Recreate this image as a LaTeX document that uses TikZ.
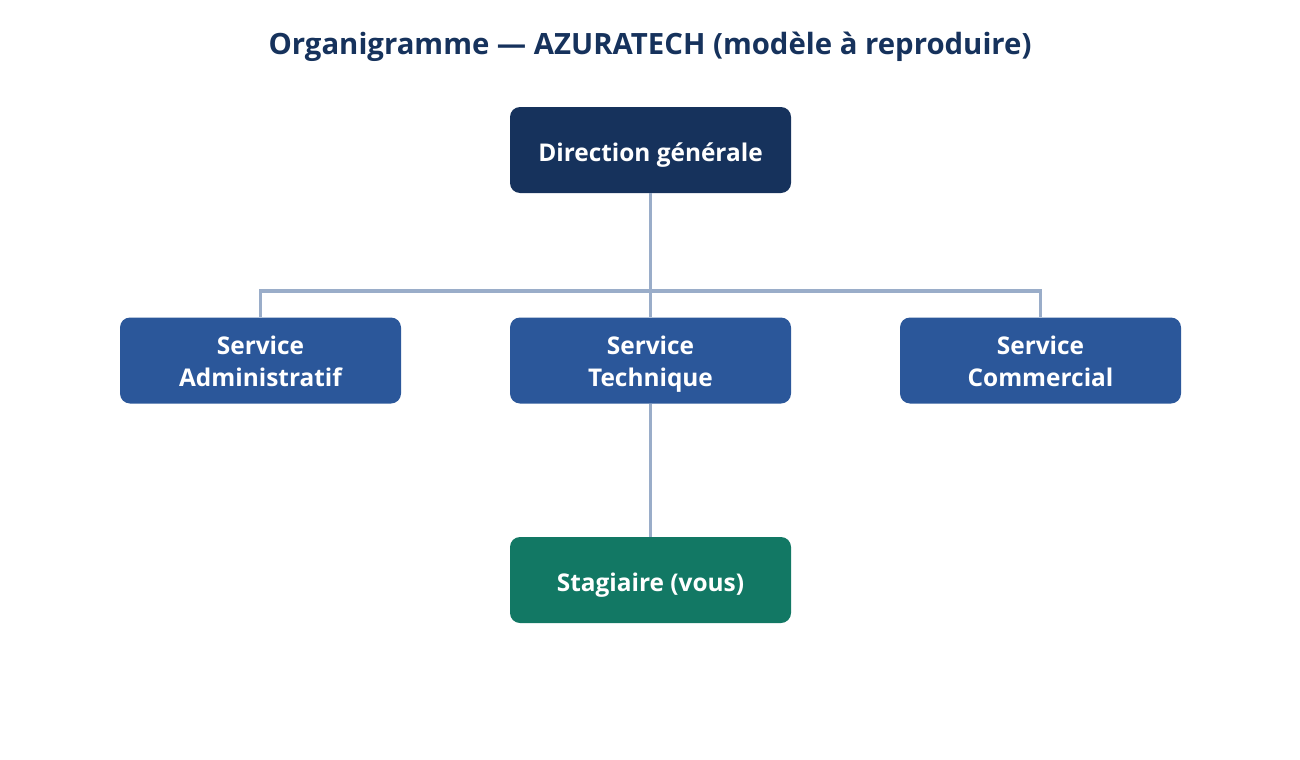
\documentclass[tikz,border=0pt]{standalone}
\usepackage{fontspec}
\setmainfont{Open Sans}
\definecolor{topc}{HTML}{16325C}
\definecolor{svc}{HTML}{2B579A}
\definecolor{stg}{HTML}{127864}
\definecolor{linec}{HTML}{9AADC9}
\definecolor{titlec}{HTML}{16325C}
\begin{document}
\begin{tikzpicture}[x=0.75pt,y=-0.75pt,
  box/.style={rounded corners=7.5pt, minimum width=210.75pt, minimum height=64.5pt,
    text=white, font=\fontsize{18.3}{24}\selectfont\bfseries, align=center, inner sep=0pt,
    text depth=4pt},
  one/.style={box, text height=20.5pt},
  two/.style={box, text height=42.25pt},
  conn/.style={draw=linec, line width=2.7pt}]
\useasboundingbox (0,0) rectangle (1300,760);
\node[text=titlec, font=\fontsize{22}{26}\selectfont\bfseries, anchor=base, inner sep=0pt] (title) at (650,54) {Organigramme — AZURATECH (modèle à reproduire)};
\node[one, fill=topc] (dg) at (650.5,150) {Direction générale};
\node[two, fill=svc] (adm) at (260.5,360.5) {Service\\Administratif};
\node[two, fill=svc] (tech) at (650.5,360.5) {Service\\Technique};
\node[two, fill=svc] (com) at (1040.5,360.5) {Service\\Commercial};
\node[one, fill=stg] (stag) at (650.5,580) {Stagiaire (vous)};
\coordinate (mid) at (650.5,291);
\draw[conn] (dg.south) -- (mid);
\draw[conn] (adm.north) |- (mid) -| (com.north);
\draw[conn] (mid) -- (tech.north);
\draw[conn] (tech.south) -- (stag.north);
\end{tikzpicture}
\end{document}
